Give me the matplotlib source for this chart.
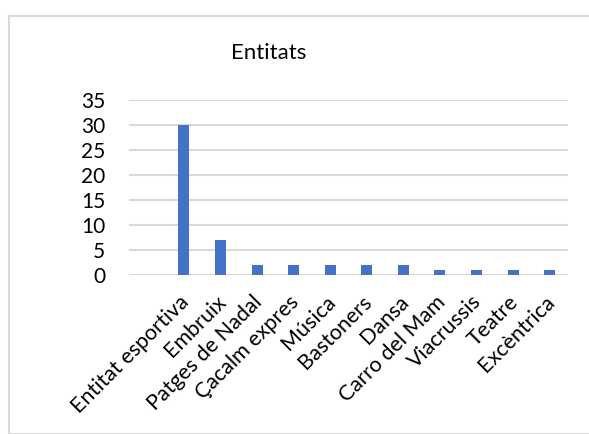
import matplotlib.pyplot as plt
from matplotlib.patches import Rectangle
from matplotlib.transforms import ScaledTranslation

categories = ['Entitat esportiva', 'Embruix', 'Patges de Nadal', 'Çacalm expres',
              'Música', 'Bastoners', 'Dansa', 'Carro del Mam', 'Viacrussis',
              'Teatre', 'Excèntrica']
values = [30, 7, 2, 2, 2, 2, 2, 1, 1, 1, 1]
yticks = [0, 5, 10, 15, 20, 25, 30, 35]

plt.rcParams['font.family'] = ['Lato', 'DejaVu Sans']

W, H = 589, 434
fig = plt.figure(figsize=(W / 100, H / 100), dpi=100)

# chart border (light grey, runs off right/bottom)
fig.patches.append(Rectangle((8.5 / W, 0), 1.2, 1 - 15.5 / H, transform=fig.transFigure,
                             fill=False, edgecolor='#D9D9D9', linewidth=1.5))

ax = fig.add_axes([129 / W, 1 - 275 / H, (568 - 129) / W, (275 - 100) / H])
x = list(range(len(categories)))
ax.bar(x, values, width=0.3, color='#4472C4', zorder=3)

ax.set_xlim(-1.5, 10.5)
ax.set_ylim(0, 35)
ax.set_yticks(yticks)
ax.yaxis.grid(True, color='#D9D9D9', linewidth=1.5, zorder=0)
for s in ax.spines.values():
    s.set_visible(False)
ax.tick_params(axis='both', length=0, colors='#000000')
ax.tick_params(axis='y', pad=17, labelsize=15)
ax.set_xticks(x)
ax.set_xticklabels(categories, rotation=45, ha='right', va='top',
                   rotation_mode='anchor', fontsize=15.5)
ax.tick_params(axis='x', pad=12)
shift = ScaledTranslation(-5 / 100, 0, fig.dpi_scale_trans)
for lab in ax.get_xticklabels():
    lab.set_transform(lab.get_transform() + shift)

fig.text(269 / W, 1 - 53 / H, 'Entitats', ha='center', va='center', fontsize=16)

fig.savefig('out.png', dpi=100)
